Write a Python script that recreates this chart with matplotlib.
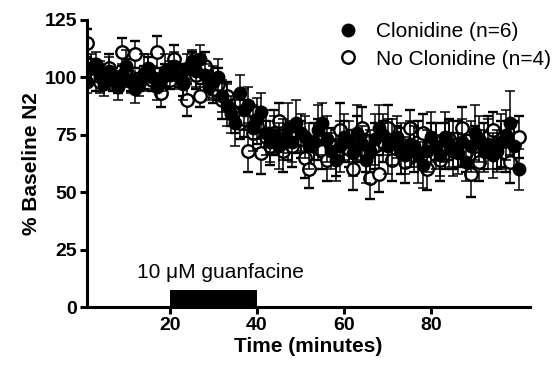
import matplotlib
matplotlib.use('Agg')
import matplotlib.pyplot as plt
from matplotlib.lines import Line2D

plt.rcParams['font.family'] = ['Liberation Sans', 'DejaVu Sans']

# time in minutes
time = list(range(1, 101))

# Clonidine (n=6), filled circles
clon_mean = [98, 104, 106, 100, 97, 103, 99, 96, 101, 105,
             98, 95, 97, 102, 104, 100, 96, 99, 103, 101,
             105, 100, 97, 104, 107, 103, 108, 101, 96, 98,
             100, 92, 88, 84, 80, 93, 86, 88, 78, 82,
             85, 76, 72, 75, 70, 73, 78, 72, 80, 76,
             74, 70, 72, 77, 80, 73, 68, 64, 70, 74,
             72, 67, 76, 71, 64, 68, 73, 78, 75, 70,
             72, 74, 69, 66, 71, 70, 66, 62, 68, 74,
             70, 66, 74, 71, 69, 67, 72, 63, 70, 76,
             73, 68, 71, 66, 68, 72, 75, 80, 70, 60]
clon_sem = [5, 6, 5, 7, 5, 6, 4, 6, 5, 7,
            5, 6, 5, 8, 6, 5, 6, 5, 7, 6,
            6, 5, 7, 6, 5, 7, 6, 5, 6, 7,
            8, 7, 9, 8, 10, 8, 9, 8, 10, 9,
            8, 10, 9, 8, 10, 9, 11, 9, 10, 8,
            9, 10, 8, 11, 9, 10, 8, 9, 11, 10,
            9, 10, 12, 8, 10, 9, 11, 10, 9, 12,
            10, 9, 11, 8, 10, 9, 12, 10, 9, 11,
            10, 9, 11, 10, 12, 9, 10, 8, 11, 12,
            10, 9, 11, 10, 9, 12, 11, 14, 10, 9]

# No Clonidine (n=4), open circles
noclon_mean = [115, 103, 100, 98, 101, 104, 99, 97, 111, 103,
               99, 110, 98, 100, 103, 99, 111, 93, 101, 99,
               108, 101, 98, 90, 106, 101, 92, 105, 98, 95,
               97, 90, 92, 86, 84, 80, 82, 68, 76, 79,
               67, 74, 70, 76, 81, 68, 72, 70, 74, 73,
               65, 60, 70, 73, 68, 64, 70, 67, 77, 72,
               69, 60, 73, 78, 67, 56, 70, 58, 72, 78,
               64, 71, 68, 63, 78, 69, 72, 76, 60, 70,
               72, 64, 70, 73, 68, 71, 78, 67, 58, 70,
               63, 70, 74, 77, 69, 71, 67, 63, 71, 74]
noclon_sem = [6, 5, 6, 4, 5, 6, 5, 4, 6, 5,
              5, 6, 4, 5, 6, 5, 7, 6, 5, 4,
              6, 5, 6, 7, 5, 6, 5, 6, 5, 6,
              7, 8, 6, 7, 8, 7, 8, 9, 7, 8,
              9, 7, 8, 10, 8, 9, 8, 9, 7, 8,
              9, 8, 10, 9, 8, 9, 8, 10, 12, 9,
              8, 9, 10, 9, 8, 9, 10, 8, 9, 10,
              9, 8, 10, 9, 8, 10, 9, 8, 9, 10,
              8, 9, 10, 9, 8, 10, 9, 8, 10, 9,
              8, 10, 9, 8, 9, 10, 8, 9, 10, 9]

# guanfacine application window
drug_start = 20
drug_end = 40
drug_label = '10 \u03bcM guanfacine'

fig = plt.figure(figsize=(5.54, 3.70), dpi=100)
ax = fig.add_axes([87/554, 1 - 307/370, (530 - 87)/554, (307 - 20)/370])

ax.errorbar(time, noclon_mean, yerr=noclon_sem, fmt='o', color='black',
            mfc='white', mec='black', mew=1.7, ms=9, elinewidth=1.1,
            capsize=3.5, capthick=1.1, zorder=2)
ax.errorbar(time, clon_mean, yerr=clon_sem, fmt='o', color='black',
            mfc='black', mec='black', ms=9, elinewidth=1.1,
            capsize=3.5, capthick=1.1, zorder=3)

# drug bar sitting on the x axis
ax.bar(drug_start, 7.5, width=drug_end - drug_start, align='edge',
       color='black', zorder=4, clip_on=False)
ax.text(12.5, 15, drug_label, fontsize=15, ha='left', va='center')

ax.set_xlim(1, 102.6)
ax.set_ylim(0, 125)
ax.set_xticks([20, 40, 60, 80])
ax.set_yticks([0, 25, 50, 75, 100, 125])
for s in ['top', 'right']:
    ax.spines[s].set_visible(False)
for s in ['left', 'bottom']:
    ax.spines[s].set_linewidth(2.2)
ax.tick_params(width=2.2, length=5, labelsize=14, pad=2)
for lbl in ax.get_xticklabels() + ax.get_yticklabels():
    lbl.set_fontweight('bold')

ax.set_xlabel('Time (minutes)', fontsize=15, fontweight='bold', labelpad=2)
ax.set_ylabel('% Baseline N2', fontsize=15, fontweight='bold', labelpad=3)

handles = [Line2D([], [], marker='o', ls='none', color='black', ms=9),
           Line2D([], [], marker='o', ls='none', color='black', mfc='white',
                  mew=1.7, ms=9)]
ax.legend(handles, ['Clonidine (n=6)', 'No Clonidine (n=4)'],
          loc='upper left', bbox_to_anchor=(338/554, 1 - 22/370),
          bbox_transform=fig.transFigure, frameon=False, fontsize=15,
          handlelength=1, handletextpad=0.8, labelspacing=0.42,
          borderpad=0, borderaxespad=0)

fig.savefig('out.png', dpi=100)
